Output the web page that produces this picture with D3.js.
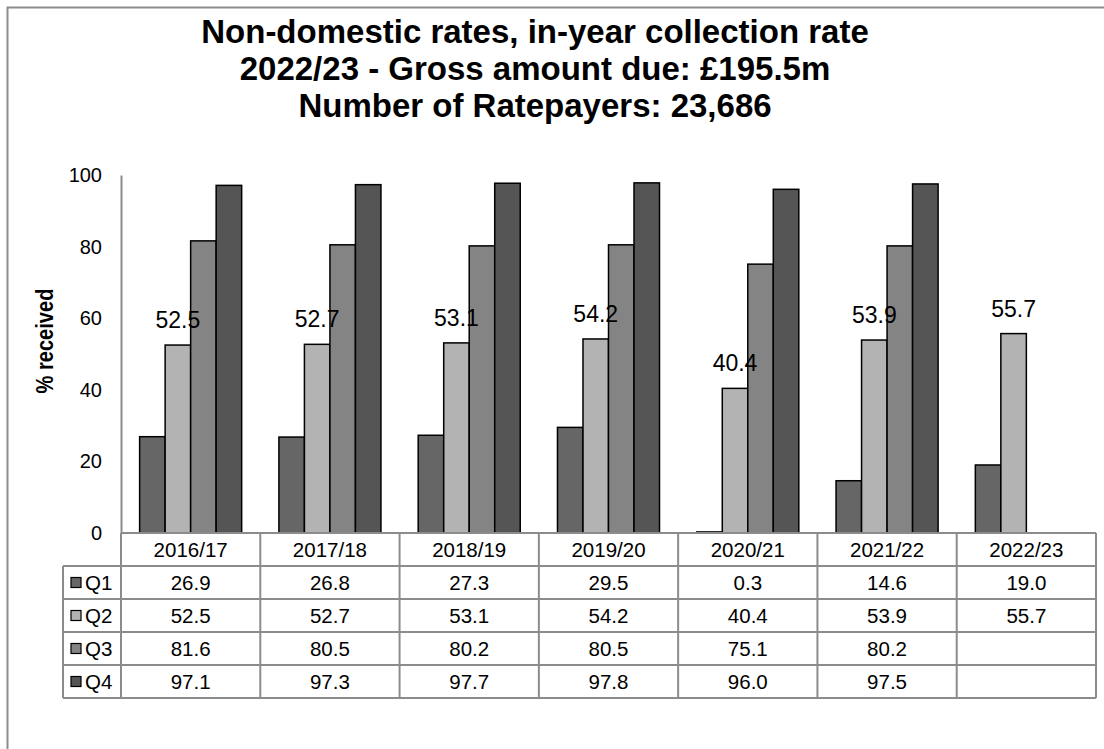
<!DOCTYPE html>
<html>
<head>
<meta charset="utf-8">
<script src="https://cdn.jsdelivr.net/npm/d3@7"></script>
<style>
  body { margin: 0; background: #fff; }
  text { font-family: "Liberation Sans", Arial, sans-serif; }
</style>
</head>
<body>
<div id="chart"></div>
<script>
const years = ["2016/17", "2017/18", "2018/19", "2019/20", "2020/21", "2021/22", "2022/23"];
const quarters = ["Q1", "Q2", "Q3", "Q4"];
const q1 = [26.9, 26.8, 27.3, 29.5, 0.3, 14.6, 19.0];
const q2 = [52.5, 52.7, 53.1, 54.2, 40.4, 53.9, 55.7];
const q3 = [81.6, 80.5, 80.2, 80.5, 75.1, 80.2, null];
const q4 = [97.1, 97.3, 97.7, 97.8, 96.0, 97.5, null];
const yTicks = [0, 20, 40, 60, 80, 100];
const titleLines = [
  "Non-domestic rates, in-year collection rate",
  "2022/23 - Gross amount due: \u00a3195.5m",
  "Number of Ratepayers: 23,686"
];

const series = {Q1: q1, Q2: q2, Q3: q3, Q4: q4};
const colors = {Q1: "#666666", Q2: "#b3b3b3", Q3: "#848484", Q4: "#555555"};

const W = 1104, H = 749;
const plotLeft = 121, plotRight = 1096, plotTop = 175, plotBottom = 533;
const rowH = 33;
const gridColor = "#8c8c8c";

const svg = d3.select("#chart").append("svg")
  .attr("width", W).attr("height", H);

// outer frame (runs off the right and bottom edges)
svg.append("rect")
  .attr("x", 7.5).attr("y", 7.5)
  .attr("width", W + 20).attr("height", H + 20)
  .attr("fill", "none").attr("stroke", gridColor).attr("stroke-width", 2);

// title
svg.append("g").selectAll("text")
  .data(titleLines)
  .enter().append("text")
  .attr("x", 535)
  .attr("y", (d, i) => 43 + i * 37)
  .attr("text-anchor", "middle")
  .style("font-size", "33px")
  .style("font-weight", "bold")
  .text(d => d);

const x0 = d3.scaleBand().domain(years).range([plotLeft, plotRight]);
const x1 = d3.scaleBand().domain(quarters).range([0, x0.bandwidth()]).paddingOuter(0.73);
const y = d3.scaleLinear().domain([0, 100]).range([plotBottom, plotTop]);

// y axis
const yAxis = svg.append("g")
  .attr("transform", `translate(${plotLeft},0)`)
  .call(d3.axisLeft(y).tickValues(yTicks).tickSize(0).tickPadding(19));
yAxis.select(".domain").attr("stroke", gridColor).attr("stroke-width", 2);
yAxis.selectAll("text").style("font-size", "20px").attr("fill", "#000")
  .style("font-family", "'Liberation Sans', Arial, sans-serif");

svg.append("text")
  .attr("transform", "translate(53,341) rotate(-90)")
  .attr("text-anchor", "middle")
  .attr("textLength", 105)
  .attr("lengthAdjust", "spacingAndGlyphs")
  .style("font-size", "24px")
  .style("font-weight", "bold")
  .text("% received");

// bars
const bars = [];
years.forEach((yr, i) => {
  quarters.forEach(q => {
    const v = series[q][i];
    if (v != null) bars.push({year: yr, q: q, v: v});
  });
});

svg.append("g").selectAll("rect")
  .data(bars)
  .enter().append("rect")
  .attr("x", d => x0(d.year) + x1(d.q))
  .attr("y", d => y(d.v))
  .attr("width", x1.bandwidth())
  .attr("height", d => y(0) - y(d.v))
  .attr("fill", d => colors[d.q])
  .attr("stroke", "#000")
  .attr("stroke-width", 1.5);

// data labels (Q2 only)
svg.append("g").selectAll("text")
  .data(bars.filter(d => d.q === "Q2"))
  .enter().append("text")
  .attr("x", d => x0(d.year) + x1(d.q) + x1.bandwidth() / 2)
  .attr("y", d => y(d.v) - 17)
  .attr("text-anchor", "middle")
  .style("font-size", "23px")
  .text(d => d.v.toFixed(1));

// data table
const table = svg.append("g");
const legendLeft = 63;
const rowsTop = plotBottom + rowH;
const tableBottom = rowsTop + quarters.length * rowH;

// header cells text
table.selectAll(".hdr")
  .data(years)
  .enter().append("text")
  .attr("x", d => x0(d) + x0.bandwidth() / 2)
  .attr("y", plotBottom + rowH / 2 + 7)
  .attr("text-anchor", "middle")
  .style("font-size", "20.5px")
  .text(d => d);

// values
quarters.forEach((q, r) => {
  const ry = rowsTop + r * rowH;
  table.append("rect")
    .attr("x", 71).attr("y", ry + rowH / 2 - 5)
    .attr("width", 10).attr("height", 10)
    .attr("fill", colors[q]).attr("stroke", "#000").attr("stroke-width", 1.2);
  table.append("text")
    .attr("x", 85).attr("y", ry + rowH / 2 + 7)
    .style("font-size", "20.5px")
    .text(q);
  table.selectAll(".v" + q)
    .data(years.map((yr, i) => ({year: yr, v: series[q][i]})).filter(d => d.v != null))
    .enter().append("text")
    .attr("x", d => x0(d.year) + x0.bandwidth() / 2)
    .attr("y", ry + rowH / 2 + 7)
    .attr("text-anchor", "middle")
    .style("font-size", "20.5px")
    .text(d => d.v.toFixed(1));
});

// table grid lines
const hLines = [plotBottom, rowsTop];
quarters.forEach((q, r) => hLines.push(rowsTop + (r + 1) * rowH));
table.selectAll(".hl")
  .data(hLines)
  .enter().append("line")
  .attr("x1", (d, i) => i === 0 ? plotLeft : legendLeft)
  .attr("x2", plotRight)
  .attr("y1", d => d).attr("y2", d => d)
  .attr("stroke", gridColor).attr("stroke-width", 2);

const vLines = years.map(d => x0(d)).concat([plotRight]);
table.selectAll(".vl")
  .data(vLines)
  .enter().append("line")
  .attr("x1", d => d).attr("x2", d => d)
  .attr("y1", plotBottom).attr("y2", tableBottom)
  .attr("stroke", gridColor).attr("stroke-width", 2);

table.append("line")
  .attr("x1", legendLeft).attr("x2", legendLeft)
  .attr("y1", rowsTop).attr("y2", tableBottom)
  .attr("stroke", gridColor).attr("stroke-width", 2);
</script>
</body>
</html>
